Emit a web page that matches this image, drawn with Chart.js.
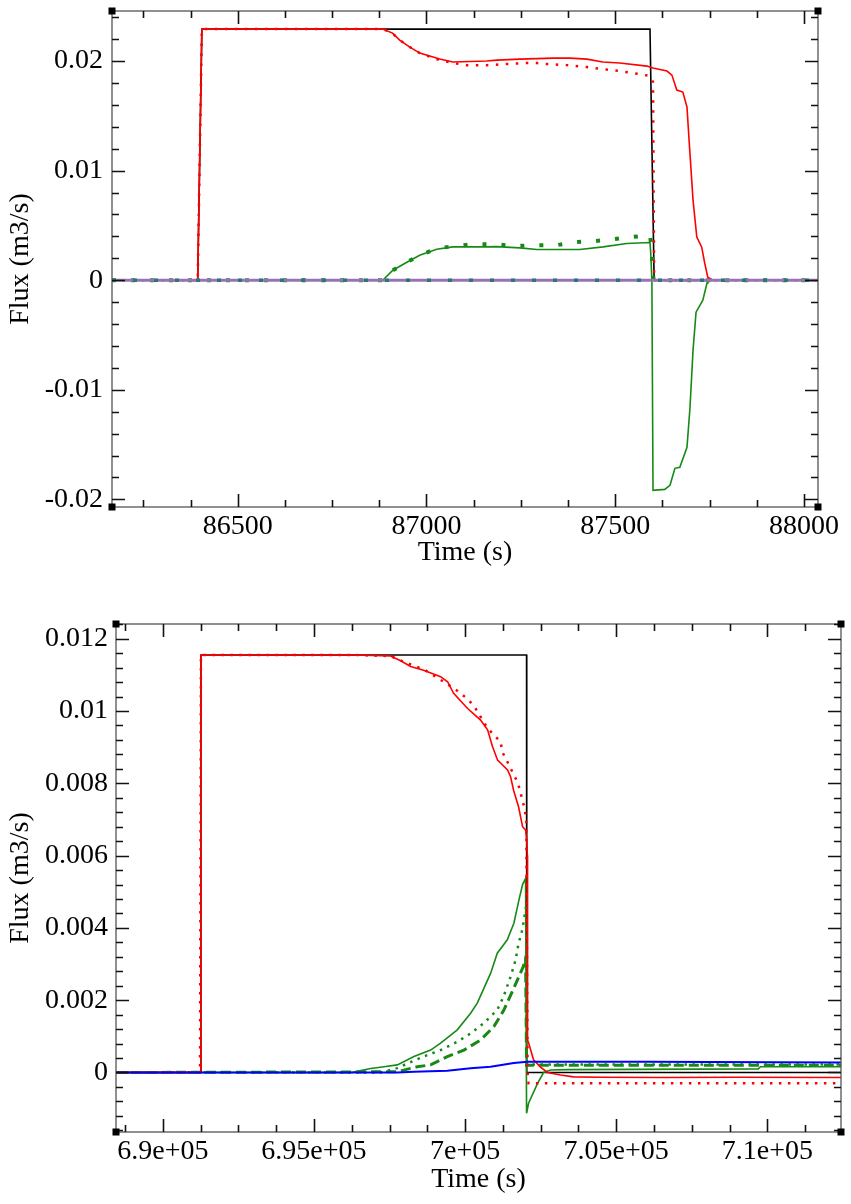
<!DOCTYPE html>
<html>
<head>
<meta charset="utf-8">
<script src="https://cdn.jsdelivr.net/npm/chart.js@4.4.1/dist/chart.umd.min.js"></script>
<style>
  body { margin: 0; background: #fff; }
  canvas { position: absolute; left: 0; }
  #topChart { top: 0; }
  #bottomChart { top: 600px; }
</style>
</head>
<body>
<canvas id="topChart" width="851" height="600"></canvas>
<canvas id="bottomChart" width="851" height="604"></canvas>
<script>
// ---- upper panel (time in s, flux in m3/s) ----
const topXRange = [86167, 88037];
const topYRange = [-0.0207, 0.02457];
const topXTicks = [86500, 87000, 87500, 88000];
const topXTickLabels = ['86500', '87000', '87500', '88000'];
const topYTicks = [-0.02, -0.01, 0, 0.01, 0.02];
const topYTickLabels = ['-0.02', '-0.01', '0', '0.01', '0.02'];

const topBlackT = [86167, 86394, 86405, 87592, 87603, 88037];
const topBlackQ = [0, 0, 0.02292, 0.02292, 0, 0];

const topRedT = [86167, 86394, 86405, 86884, 86910, 86929, 86955, 86982, 87035, 87070, 87160, 87186, 87247, 87335, 87380, 87425, 87467, 87512, 87584, 87600, 87637, 87650, 87663, 87679, 87690, 87695, 87706, 87716, 87729, 87737, 87745, 87759, 88037];
const topRedQ = [0, 0, 0.02292, 0.02292, 0.02255, 0.02192, 0.02130, 0.02073, 0.02018, 0.01991, 0.02, 0.02009, 0.02018, 0.02027, 0.02027, 0.02018, 0.01991, 0.01982, 0.01954, 0.01936, 0.01909, 0.01872, 0.01735, 0.01717, 0.0158, 0.01306, 0.00731, 0.00393, 0.00301, 0.00155, 0.00027, 0, 0];

const topRedDotT = [86167, 86394, 86405, 86884, 86910, 86929, 86955, 86982, 87035, 87070, 87107, 87160, 87213, 87266, 87292, 87319, 87372, 87425, 87467, 87512, 87565, 87592, 87600, 87603, 88037];
const topRedDotQ = [0, 0, 0.02292, 0.02292, 0.02255, 0.02192, 0.02130, 0.02073, 0.02009, 0.01982, 0.01963, 0.01963, 0.01973, 0.01982, 0.01982, 0.01973, 0.01963, 0.01945, 0.01927, 0.01909, 0.01881, 0.01863, 0.01808, 0, 0];

const topGreenT = [86167, 86884, 86911, 86948, 86982, 87027, 87070, 87158, 87186, 87247, 87292, 87406, 87468, 87530, 87592, 87594, 87597, 87600, 87631, 87645, 87658, 87671, 87690, 87698, 87706, 87714, 87732, 87743, 87745, 88037];
const topGreenQ = [0, 0, 0.00091, 0.00164, 0.00228, 0.00283, 0.00304, 0.00304, 0.00306, 0.00295, 0.0028, 0.0028, 0.00304, 0.00335, 0.00344, 0.00247, 0, -0.01918, -0.01909, -0.01872, -0.01717, -0.01708, -0.01525, -0.0116, -0.00639, -0.00292, -0.00183, -0.00027, 0, 0];

const topGreenDotT = [86167, 86884, 86911, 86948, 86982, 87030, 87075, 87123, 87181, 87234, 87287, 87345, 87393, 87441, 87494, 87541, 87592, 87597, 87599, 87602, 88037];
const topGreenDotQ = [0, 0, 0.00091, 0.00164, 0.00228, 0.00292, 0.00311, 0.00329, 0.00329, 0.00311, 0.0032, 0.0032, 0.00347, 0.00356, 0.00374, 0.00393, 0.00411, 0.00274, 0.00073, 0, 0];

const topZeroT = [86167, 88037];
const topZeroQ = [0, 0];

// ---- lower panel ----
const botXRange = [688450, 712437];
const botYRange = [-0.001646, 0.012407];
const botXTicks = [690000, 695000, 700000, 705000, 710000];
const botXTickLabels = ['6.9e+05', '6.95e+05', '7e+05', '7.05e+05', '7.1e+05'];
const botYTicks = [0, 0.002, 0.004, 0.006, 0.008, 0.01, 0.012];
const botYTickLabels = ['0', '0.002', '0.004', '0.006', '0.008', '0.01', '0.012'];

const botBlackT = [688450, 691230, 691260, 702034, 702040, 712437];
const botBlackQ = [0, 0, 0.01155, 0.01155, 0, 0];

const botRedT = [688450, 691230, 691260, 696323, 697536, 697867, 698198, 698628, 699190, 699421, 699620, 700083, 700513, 700744, 700909, 701075, 701405, 701505, 701604, 701769, 701901, 702001, 702040, 702060, 702067, 702100, 702265, 702496, 702728, 703158, 703588, 704481, 706500, 709000, 712437];
const botRedQ = [0, 0, 0.01155, 0.01155, 0.01152, 0.01139, 0.01123, 0.01113, 0.01095, 0.01081, 0.01049, 0.01007, 0.00975, 0.00948, 0.00901, 0.00864, 0.00837, 0.00818, 0.00781, 0.00735, 0.0068, 0.00671, 0.00643, 0.006, 0.0009, 0.00082, 0.00035, 0.00015, 0, -0.00007, -0.00012, -0.00013, -0.00014, -0.00013, -0.00014];

const botRedDotT = [688450, 691230, 691260, 696323, 697536, 698032, 698638, 699630, 699851, 700126, 700347, 700678, 700899, 701174, 701230, 701396, 701670, 701802, 701892, 701968, 702024, 702067, 702100, 702398, 712437];
const botRedDotQ = [0, 0, 0.01155, 0.01155, 0.01152, 0.01134, 0.01115, 0.01063, 0.01049, 0.0103, 0.01007, 0.00961, 0.00938, 0.00915, 0.00887, 0.0086, 0.00814, 0.00786, 0.00754, 0.00731, 0.00698, 0, -0.0003, -0.0003, -0.0003];

const botGreenT = [688450, 696214, 696313, 696875, 697315, 697758, 698307, 698859, 699190, 699742, 700182, 700403, 700843, 701065, 701396, 701614, 701779, 701901, 702001, 702034, 702100, 702398, 702596, 702827, 703390, 709700, 709772, 712437];
const botGreenQ = [0, 0, 0.00001, 0.00011, 0.00016, 0.00021, 0.00044, 0.00062, 0.00081, 0.00118, 0.00164, 0.00192, 0.00274, 0.0033, 0.00367, 0.00413, 0.00476, 0.0052, 0.00537, -0.00113, -0.00085, -0.0003, 0, 0.00007, 0.00008, 0.0001, 0.00016, 0.00016];

const botGreenDotT = [688450, 697206, 697758, 698089, 698628, 699190, 699742, 700182, 700612, 701065, 701273, 701505, 701670, 701769, 701891, 702020, 702034, 702100, 702400, 712437];
const botGreenDotQ = [0, 0, 0.00012, 0.00025, 0.00044, 0.00062, 0.00085, 0.00108, 0.00136, 0.00173, 0.0021, 0.00265, 0.00311, 0.00357, 0.00394, 0.0046, 0.0002, 0.00022, 0.00022, 0.00022];

const botGreenDashT = [688450, 697758, 698419, 698859, 699411, 699960, 700513, 700952, 701283, 701561, 701779, 701925, 702001, 702034, 702100, 702400, 712437];
const botGreenDashQ = [0, 0.00002, 0.00016, 0.00021, 0.00044, 0.00062, 0.0009, 0.00127, 0.00173, 0.00224, 0.00265, 0.00293, 0.00316, 0.0002, 0.0002, 0.0002, 0.0002];

const botBlueT = [688450, 697768, 698307, 699411, 700182, 700843, 701614, 702057, 702400, 706000, 712437];
const botBlueQ = [0, 0, 0.00002, 0.00005, 0.00012, 0.00016, 0.00026, 0.0003, 0.0003, 0.0003, 0.00028];

const RED = '#ff0000';
const GREEN = '#168a16';

Chart.defaults.font.family = "'Liberation Serif', 'DejaVu Serif', serif";
Chart.defaults.font.size = 28;
Chart.defaults.color = '#000';

function pts(t, q) {
    return t.map((v, i) => ({ x: v, y: q[i] }));
}

function line(t, q, color, width, dash, order) {
    return {
        data: pts(t, q),
        borderColor: color,
        borderWidth: width,
        borderDash: dash || [],
        pointRadius: 0,
        tension: 0,
        fill: false,
        order: order
    };
}

// inward major/minor ticks on all four sides, frame and corner handles
const frameTicks = {
    id: 'frameTicks',
    afterDatasetsDraw(chart, args, opts) {
        const { ctx, chartArea: a, scales: { x, y } } = chart;
        ctx.save();
        ctx.strokeStyle = '#555';
        ctx.lineWidth = 1.3;
        ctx.strokeRect(a.left, a.top, a.right - a.left, a.bottom - a.top);

        ctx.strokeStyle = '#111';
        ctx.lineWidth = 1.6;
        const near = (v, list, step) => list.some(m => Math.abs(m - v) < step * 1e-3);
        const first = Math.ceil(x.min / opts.xMinor - 1e-9);
        for (let k = first; k * opts.xMinor <= x.max; k++) {
            const v = k * opts.xMinor;
            const len = near(v, opts.xMajor, opts.xMinor) ? 13 : 7;
            const px = Math.round(x.getPixelForValue(v)) + 0.5;
            ctx.beginPath();
            ctx.moveTo(px, a.bottom); ctx.lineTo(px, a.bottom - len);
            ctx.moveTo(px, a.top); ctx.lineTo(px, a.top + len);
            ctx.stroke();
        }
        const firstY = Math.ceil(y.min / opts.yMinor - 1e-9);
        for (let k = firstY; k * opts.yMinor <= y.max + 1e-12; k++) {
            const v = k * opts.yMinor;
            const len = near(v, opts.yMajor, opts.yMinor) ? 13 : 7;
            const py = Math.round(y.getPixelForValue(v)) + 0.5;
            ctx.beginPath();
            ctx.moveTo(a.left, py); ctx.lineTo(a.left + len, py);
            ctx.moveTo(a.right, py); ctx.lineTo(a.right - len, py);
            ctx.stroke();
        }

        ctx.fillStyle = '#000';
        [[a.left, a.top], [a.right, a.top], [a.left, a.bottom], [a.right, a.bottom]].forEach(c => {
            ctx.fillRect(c[0] - 3.5, c[1] - 3.5, 7, 7);
        });
        ctx.restore();
    }
};

function buildOptions(p) {
    return {
        responsive: false,
        animation: false,
        events: [],
        layout: { padding: p.padding },
        plugins: {
            legend: { display: false },
            tooltip: { enabled: false },
            frameTicks: { xMajor: p.xTicks, xMinor: p.xMinor, yMajor: p.yTicks, yMinor: p.yMinor }
        },
        scales: {
            x: {
                type: 'linear',
                min: p.xRange[0],
                max: p.xRange[1],
                grid: { display: false, drawTicks: false },
                border: { display: false },
                ticks: {
                    padding: p.xLabelPad,
                    maxRotation: 0,
                    autoSkip: false,
                    callback: (v) => {
                        const i = p.xTicks.indexOf(v);
                        return i >= 0 ? p.xLabels[i] : '';
                    }
                },
                afterBuildTicks: s => { s.ticks = p.xTicks.map(v => ({ value: v })); },
                afterFit: s => { s.height = p.xAxisHeight; s.paddingLeft = 0; s.paddingRight = 0; },
                title: { display: true, text: 'Time (s)', padding: { top: 0, bottom: p.xTitlePad } }
            },
            y: {
                type: 'linear',
                min: p.yRange[0],
                max: p.yRange[1],
                grid: { display: false, drawTicks: false },
                border: { display: false },
                ticks: {
                    padding: p.yLabelPad,
                    autoSkip: false,
                    callback: (v) => {
                        const i = p.yTicks.findIndex(t => Math.abs(t - v) < 1e-9);
                        return i >= 0 ? p.yLabels[i] : '';
                    }
                },
                afterBuildTicks: s => { s.ticks = p.yTicks.map(v => ({ value: v })); },
                afterFit: s => { s.width = p.yAxisWidth; s.paddingTop = 0; s.paddingBottom = 0; },
                title: { display: true, text: 'Flux (m3/s)', padding: { top: 4, bottom: 0 } }
            }
        }
    };
}

new Chart(document.getElementById('topChart'), {
    type: 'line',
    data: {
        datasets: [
            line(topZeroT, topZeroQ, '#2d7676', 3.5, [4, 17], 0),
            line(topZeroT, topZeroQ, '#9673b4', 3, null, 1),
            line(topRedT, topRedQ, RED, 1.6, null, 2),
            line(topRedDotT, topRedDotQ, RED, 2.5, [2.5, 7.5], 3),
            line(topGreenDotT, topGreenDotQ, GREEN, 4, [4, 15], 4),
            line(topGreenT, topGreenQ, GREEN, 1.6, null, 5),
            line(topBlackT, topBlackQ, '#000', 1.6, null, 6)
        ]
    },
    options: buildOptions({
        padding: { top: 11, right: 33, left: 0, bottom: 0 },
        xRange: topXRange, yRange: topYRange,
        xTicks: topXTicks, xLabels: topXTickLabels, xMinor: 125,
        yTicks: topYTicks, yLabels: topYTickLabels, yMinor: 0.002,
        xAxisHeight: 93, yAxisWidth: 112,
        xLabelPad: 3, yLabelPad: 9, xTitlePad: 31
    }),
    plugins: [frameTicks]
});

new Chart(document.getElementById('bottomChart'), {
    type: 'line',
    data: {
        datasets: [
            line(botBlueT, botBlueQ, '#0000ff', 2, null, 0),
            line(botRedT, botRedQ, RED, 1.6, null, 1),
            line(botRedDotT, botRedDotQ, RED, 2.5, [2.5, 6.5], 2),
            line(botGreenT, botGreenQ, GREEN, 1.6, null, 3),
            line(botGreenDotT, botGreenDotQ, GREEN, 2.5, [2.5, 5.5], 4),
            line(botGreenDashT, botGreenDashQ, GREEN, 3, [10, 5], 5),
            line(botBlackT, botBlackQ, '#000', 1.6, null, 6)
        ]
    },
    options: buildOptions({
        padding: { top: 24, right: 10, left: 0, bottom: 0 },
        xRange: botXRange, yRange: botYRange,
        xTicks: botXTicks, xLabels: botXTickLabels, xMinor: 1250,
        yTicks: botYTicks, yLabels: botYTickLabels, yMinor: 0.0004,
        xAxisHeight: 72, yAxisWidth: 116,
        xLabelPad: 3, yLabelPad: 8, xTitlePad: 8
    }),
    plugins: [frameTicks]
});
</script>
</body>
</html>
